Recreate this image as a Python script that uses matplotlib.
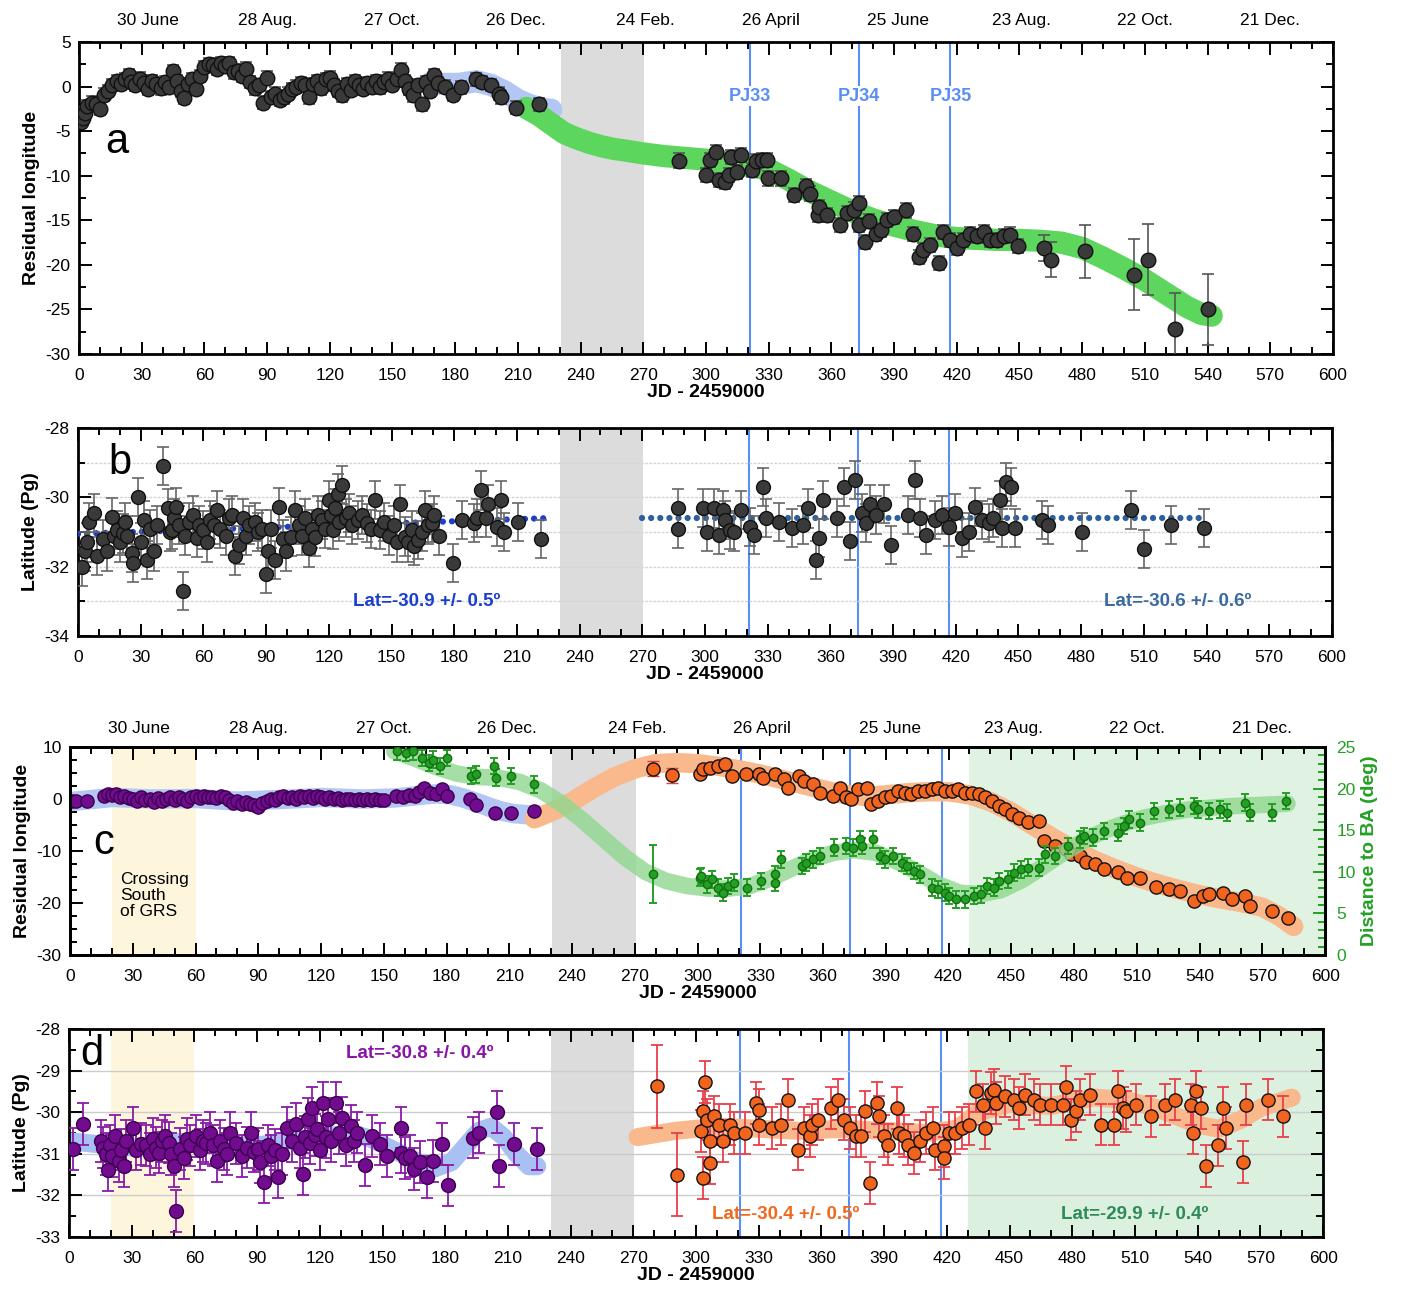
import numpy as np
import matplotlib.pyplot as plt
from matplotlib.ticker import MultipleLocator

plt.rcParams['font.family'] = ['Liberation Sans', 'DejaVu Sans']
plt.rcParams['axes.unicode_minus'] = False

# common
date_pos = [33, 90, 150, 209, 271, 331, 392, 451, 510, 570]
date_labels = ["30 June", "28 Aug.", "27 Oct.", "26 Dec.", "24 Feb.", "26 April",
               "25 June", "23 Aug.", "22 Oct.", "21 Dec."]
pj_days = [321, 373, 417]
pj_labels = ["PJ33", "PJ34", "PJ35"]
gap_span = [230.5, 270.5]
grs_span = [20, 60]
ba_span = [430, 600]

# panel a - residual longitude
a_x1 = [1, 2, 3, 4, 6, 8, 10, 12, 14, 16, 18, 20, 22, 24, 25, 27, 29, 31, 33, 35,
        37, 39, 41, 43, 45, 47, 49, 50, 52, 54, 56, 58, 60, 62, 64, 66, 68, 70, 72, 74,
        76, 78, 80, 82, 84, 86, 88, 90, 92, 94, 96, 98, 100, 102, 104, 106, 108, 110, 112, 114,
        116, 118, 120, 122, 124, 126, 128, 130, 132, 134, 136, 138, 140, 142, 144, 146, 148, 150, 152, 154,
        156, 158, 160, 162, 164, 166, 168, 170, 172, 175, 179, 183, 190, 193, 197, 201, 202, 209, 220]
a_y1 = [-4.0, -3.5, -3.0, -2.2, -1.8, -2.0, -2.5, -0.9, -0.5, 0.2, 0.6, 0.3, 0.8, 1.3, 0.5, 0.2, 0.9, 0.4, -0.3, 0.6,
        0.3, -0.2, 0.5, 0.0, 1.7, 0.6, -0.5, -1.3, 0.3, 0.8, -0.3, 1.2, 2.2, 2.5, 2.4, 2.0, 2.6, 2.3, 2.6, 1.6,
        1.8, 1.2, 2.0, 0.5, -0.2, 0.2, -1.8, 1.0, -1.2, -0.8, -1.5, -1.2, -0.8, -0.3, 0.0, 0.4, 0.2, -1.2, 0.3, 0.6,
        -0.2, 0.8, 1.0, 0.2, -0.5, -1.0, 0.3, -0.4, 0.6, 0.2, -0.3, 0.4, 0.0, 0.6, -0.1, 0.5, 0.9, 0.2, 0.8, 1.9,
        0.6, -0.3, -1.0, 0.2, -2.0, 0.5, -0.5, 1.3, 0.4, 0.0, -0.9, -0.1, 0.8, 0.5, 0.15, -0.8, -1.2, -2.35, -2.0]
a_x2 = [287, 300, 302, 305, 306, 309, 311, 312, 315, 317, 322, 324, 327, 329, 329.5, 336, 342, 348, 350, 353.5,
        354, 358, 364, 367.5, 370.7, 373, 373, 376, 378, 381.4, 383.6, 386.8, 390, 395.8, 399, 401.8, 404, 407, 411.4, 413.6,
        416.8, 420, 423, 426.4, 429.6, 433, 436, 439.3, 442.5, 445.7, 449.3, 461.8, 465, 481.5, 505, 511.5, 524.3, 540]
a_y2 = [-8.3, -9.9, -8.2, -7.3, -10.5, -10.7, -9.9, -7.9, -9.6, -7.7, -9.4, -8.4, -8.2, -8.2, -10.3, -10.3, -12.2, -11.2, -12.0, -14.4,
        -13.5, -14.4, -15.5, -14.2, -13.8, -13.1, -15.5, -17.4, -15.1, -16.5, -16.1, -15.0, -14.6, -13.9, -16.5, -19.1, -18.3, -17.8, -19.8, -16.3,
        -17.2, -18.1, -17.2, -16.5, -16.8, -16.3, -17.2, -17.2, -16.8, -16.6, -17.9, -18.1, -19.4, -18.5, -21.1, -19.4, -27.2, -25.0]
a_e2 = [0.8] * 51 + [1.5, 2.0, 3.0, 4.0, 4.0, 4.0, 4.0]
a_blue_x = [168, 175, 182, 190, 197, 204, 210, 216, 222, 226]
a_blue_y = [0.4, 0.3, 0.3, 0.6, 0.2, -0.6, -1.5, -2.1, -2.5, -2.6]
a_green_x = [214, 220, 226, 232, 238, 244, 250, 256, 262, 270, 280, 290, 300, 310, 320, 330, 340, 350, 360, 370,
             380, 390, 400, 410, 420, 430, 440, 450, 460, 470, 480, 490, 500, 510, 520, 530, 537, 542]
a_green_y = [-2.4, -3.2, -4.2, -5.2, -5.8, -6.3, -6.7, -7.0, -7.2, -7.5, -7.8, -8.0, -8.2, -8.5, -8.9, -9.3, -10.5, -11.8, -12.9, -14.0,
             -14.9, -15.6, -16.2, -16.7, -17.0, -17.1, -17.2, -17.2, -17.3, -17.5, -18.1, -19.2, -20.4, -21.7, -23.2, -24.7, -25.5, -25.7]

# panel b - latitude
b_x1 = [1.7, 3.2, 4.3, 5.4, 7.5, 9.2, 12, 13.9, 16.1, 17, 18.6, 20, 21.4, 22.5, 23.6, 25.7, 26.4, 28.9, 30, 31.5,
        33.2, 34.5, 36.4, 38, 40.7, 42.9, 44, 45, 46, 47.1, 48.5, 50.4, 51.4, 53, 55, 56.8, 58, 60, 61.5, 63.2,
        65, 66.4, 68, 70.7, 72, 73.5, 75, 77.1, 79, 80.4, 82, 84.6, 86, 88, 90, 91, 92.5, 94.3, 96.4, 98,
        99.6, 101.8, 103.9, 105.5, 107, 108.5, 110.4, 112, 113.6, 115, 116.8, 118, 120, 121, 122.1, 123, 124.3, 125, 126.4, 128,
        129.6, 131, 133.9, 136, 138.2, 140, 142, 144.6, 146.5, 148.9, 151, 152.5, 154.3, 156.4, 158, 159.6, 161, 162.9, 164.5, 166.1,
        167.5, 169.3, 170.5, 172.5, 179.6, 183.9, 189.6, 191, 192.9, 195, 196.1, 200.4, 202.5, 203.6, 210.6, 221.4]
b_y1 = [-32.0, -31.56, -31.3, -30.7, -30.46, -31.7, -31.2, -31.56, -30.56, -31.1, -30.94, -31.3, -31.04, -30.7, -31.1, -31.6, -31.9, -30.0, -31.3, -30.66,
        -31.8, -30.9, -31.56, -30.8, -29.1, -30.3, -31.0, -30.94, -30.6, -30.27, -30.8, -32.7, -31.1, -30.7, -30.5, -31.18, -30.8, -30.94, -31.3, -30.66,
        -30.8, -30.37, -30.9, -31.1, -30.6, -30.5, -31.7, -31.37, -30.6, -31.1, -30.8, -30.7, -31.0, -30.9, -32.2, -31.56, -30.9, -31.8, -30.27, -31.2,
        -31.56, -31.13, -30.37, -30.8, -31.1, -30.6, -31.47, -30.9, -31.13, -30.5, -30.66, -30.9, -30.08, -30.5, -30.94, -30.3, -29.89, -30.7, -29.65, -30.6,
        -30.46, -30.8, -30.66, -30.5, -30.75, -30.9, -30.08, -30.94, -30.7, -31.1, -30.8, -31.3, -30.18, -31.13, -31.3, -30.94, -31.4, -31.23, -31.0, -30.37,
        -30.8, -30.75, -30.5, -31.1, -31.9, -30.66, -30.75, -30.6, -29.8, -30.6, -30.18, -30.85, -30.08, -30.99, -30.7, -31.2]
b_x2 = [287, 287, 299, 301, 304.3, 306.5, 308.6, 309.7, 311.8, 314, 317.2, 321.4, 323.6, 327.9, 329, 335.3, 341.8, 347.1, 349.2, 352.9,
        354.6, 356.7, 363.1, 366.3, 369.5, 371.6, 374.9, 377, 379.2, 381.9, 385.6, 388.8, 397.3, 400.5, 402.7, 405.9, 410.2, 413.4, 416.6, 419.8,
        423, 426.2, 429.4, 432.6, 435.8, 438, 441.2, 442.2, 443.9, 446.5, 448.2, 461.5, 464, 480.3, 503.8, 510.2, 523, 538.8]
b_y2 = [-30.3, -30.9, -30.3, -30.99, -30.32, -31.08, -30.37, -30.66, -30.94, -30.99, -30.37, -30.85, -31.08, -29.7, -30.6, -30.7, -30.89, -30.8, -30.32, -31.8,
        -31.18, -30.08, -30.6, -29.7, -31.27, -29.5, -30.46, -30.75, -30.18, -30.5, -30.18, -31.37, -30.5, -29.5, -30.6, -31.08, -30.66, -30.5, -30.85, -30.46,
        -31.18, -30.99, -30.27, -30.66, -30.75, -30.6, -30.08, -30.89, -29.56, -29.7, -30.89, -30.66, -30.8, -30.99, -30.37, -31.5, -30.8, -30.89]
b_fit1_x = [0, 224]
b_fit1_y = [-31.05, -30.6]
b_fit2_x = [270, 540]
b_fit2_y = [-30.6, -30.6]

# panel c - residual longitude (left) and distance to BA (right)
c_px = [1, 3, 8, 16, 18, 20, 22, 24, 26, 28, 30, 32, 34, 36, 38, 40, 42, 44, 46, 48,
        50, 52, 54, 56, 58, 60, 62, 64, 66, 68, 70, 72, 74, 76, 78, 80, 82, 84, 86, 88,
        90, 92, 94, 96, 98, 100, 102, 104, 106, 108, 110, 112, 114, 116, 118, 120, 122, 124, 126, 128,
        130, 132, 134, 136, 138, 140, 142, 144, 146, 148, 150, 156, 159, 162, 165, 167, 169, 172, 175, 178,
        180, 191, 194, 203, 211, 222]
c_py = [-0.3, -0.4, -0.3, 0.6, 0.9, 0.8, 1.0, 0.4, 0.6, 0.2, 0.0, -0.3, 0.3, -0.2, 0.1, -0.5, 0.2, -0.3, 0.0, 0.4,
        -0.2, 0.3, 0.1, -0.4, 0.3, 0.5, 0.2, 0.6, 0.3, 0.4, 0.2, 0.5, 0.3, -0.2, -0.8, -0.4, -1.0, -0.6, -0.9, -1.2,
        -1.5, -0.8, -0.3, 0.1, -0.2, 0.3, 0.5, 0.2, 0.4, 0.1, 0.6, 0.3, 0.5, 0.2, 0.6, 0.4, 0.1, 0.3, 0.0, 0.2,
        -0.2, 0.1, 0.0, -0.2, 0.0, -0.1, 0.1, -0.2, 0.0, -0.1, -0.1, 0.5, 0.3, 0.7, 0.6, 1.4, 2.2, 1.2, 1.0, 1.9,
        0.6, -0.05, -1.2, -2.6, -2.6, -2.3]
c_ox = [278.6, 287.6, 301, 302.6, 305.8, 310, 313.3, 316.5, 323, 329.4, 331.5, 336.9, 341.1, 343.3, 348.6, 350.8, 355, 358.3, 364.7, 367.9,
        371.1, 373.3, 376.5, 380.8, 382.9, 386.1, 389.4, 392.6, 395.8, 399, 402.2, 405.4, 408.6, 411.9, 415.1, 418.3, 421.5, 424.7, 427.9, 431.1,
        434.4, 437.6, 440.8, 444, 447.2, 450.4, 453.6, 457.9, 463.3, 465.4, 470.8, 476.1, 478.3, 482.6, 485.8, 490.1, 494.3, 500.8, 505.1, 511.5,
        519, 525.4, 530.8, 537.2, 541.5, 544.7, 551.1, 555.4, 561.8, 564, 574.7, 582.2]
c_oy = [5.84, 4.56, 4.9, 5.7, 6.0, 6.35, 6.7, 4.4, 4.75, 4.75, 4.1, 4.75, 3.8, 2.2, 4.4, 3.5, 2.8, 1.2, 0.6, 2.2,
        0.3, 0.0, 1.9, 2.2, -1.0, -0.37, 0.3, 0.6, 1.55, 1.2, 0.9, 1.55, 1.55, 1.9, 2.2, 1.55, 1.55, 1.9, 1.2, 1.2,
        0.9, 0.3, -0.37, -1.3, -2.0, -2.9, -3.6, -4.5, -4.2, -8.0, -9.0, -9.6, -10.6, -10.9, -12.2, -12.5, -13.5, -14.1, -15.1, -15.1,
        -17.0, -17.3, -17.6, -19.6, -18.6, -18.3, -18.0, -19.2, -18.6, -20.5, -21.5, -22.8]
c_gx = [156.4, 160.7, 164, 168.2, 171.4, 173.6, 176.8, 180, 191.8, 193.9, 202.5, 203.6, 211, 221.8, 278.6, 301, 301.5, 304.7, 306.9, 310,
        312.2, 314.4, 317.6, 323.6, 330.4, 336.9, 336.9, 340, 349.7, 351.8, 355, 358.3, 365.4, 371.1, 374.4, 377.6, 378.6, 384, 387.2, 389.4,
        393.6, 397.9, 400.1, 403.3, 406.5, 411.9, 415.1, 418.3, 420.4, 423.6, 427.9, 432.2, 435.4, 438.6, 441.9, 444, 448.3, 451.5, 454.7, 457.9,
        463.3, 466, 470.8, 477.2, 482.6, 484.7, 489, 494.3, 500.8, 504, 506.1, 511.5, 518.1, 525.4, 530.8, 537.2, 539.3, 544.7, 550, 553.3,
        561.8, 564, 574.7, 581.1]
c_gy = [24.5, 24.3, 24.5, 23.7, 23.1, 23.5, 22.7, 23.7, 21.5, 21.7, 22.7, 21.3, 21.5, 20.5, 9.7, 9.3, 9.5, 8.5, 9.1, 8.1,
        7.5, 8.3, 8.7, 8.1, 8.9, 8.7, 9.7, 11.5, 10.7, 11.1, 11.5, 11.9, 12.9, 13.1, 12.9, 13.9, 13.1, 13.9, 11.9, 11.5,
        11.9, 11.1, 10.7, 10.1, 9.7, 8.1, 7.9, 7.5, 7.1, 6.7, 6.7, 7.1, 7.3, 8.3, 8.1, 8.9, 9.1, 9.9, 10.3, 10.5,
        10.5, 12.1, 11.9, 13.1, 13.9, 14.3, 14.1, 14.9, 14.7, 15.5, 16.3, 15.9, 17.3, 17.5, 17.7, 17.9, 17.5, 17.3, 17.5, 17.1,
        18.3, 17.1, 17.1, 18.5]
c_ge = [1.0] * 14 + [3.5] + [1.0] * 69
c_blue_x = [0, 20, 40, 60, 80, 100, 120, 140, 155, 165, 175, 182, 188, 194, 200, 206, 212, 218, 224]
c_blue_y = [-0.5, 0.3, 0.0, 0.1, -0.4, -0.1, 0.3, 0.0, 0.2, 0.6, 1.0, 0.8, 0.2, -0.6, -1.5, -2.3, -2.8, -3.0, -3.1]
c_orange_x = [222, 230, 240, 250, 260, 270, 280, 290, 300, 310, 320, 330, 340, 350, 360, 370, 380, 390, 400, 410,
              420, 430, 440, 450, 460, 470, 480, 490, 500, 510, 520, 530, 540, 550, 560, 570, 578, 585]
c_orange_y = [-3.8, -2.5, -0.5, 2.0, 4.2, 5.8, 6.8, 7.0, 6.8, 6.3, 5.6, 4.8, 3.8, 2.8, 1.8, 0.9, 0.5, 0.8, 1.2, 1.4,
              1.4, 0.8, -0.5, -2.5, -5.0, -7.5, -9.8, -11.8, -13.5, -15.0, -16.3, -17.4, -18.4, -19.2, -19.9, -20.8, -22.5, -24.5]
c_green_x = [155, 165, 175, 185, 195, 205, 215, 225, 235, 245, 255, 265, 275, 285, 295, 305, 315, 325, 335, 345,
             355, 365, 375, 385, 395, 405, 415, 425, 435, 445, 455, 465, 475, 485, 495, 505, 515, 525, 535, 545,
             555, 565, 575, 582]
c_green_y = [24.5, 23.6, 22.6, 21.8, 21.4, 21.3, 20.8, 19.8, 18.2, 16.2, 14.0, 11.8, 10.0, 8.9, 8.3, 8.0, 8.0, 8.3, 9.2, 10.4,
             11.5, 12.3, 12.6, 12.3, 11.3, 10.0, 8.5, 7.5, 7.3, 7.8, 9.0, 10.6, 12.3, 13.8, 15.0, 15.9, 16.6, 17.1, 17.5, 17.7,
             17.9, 18.0, 18.1, 18.2]

# panel d - latitude
d_px = [1.7, 6.5, 15.2, 16.3, 17.5, 18.5, 19.5, 20.7, 22.2, 23.9, 25, 26.1, 27.2, 30.4, 32, 34.3, 37, 38.5, 40.2, 41.5,
        43, 44.5, 45.7, 47.8, 49, 50.4, 51.1, 53.3, 55, 56.5, 58, 60.9, 62.5, 64.1, 65.5, 67.4, 69, 70.7, 72, 73.9,
        75.5, 77.2, 80, 82.6, 85, 87, 88.5, 90.2, 91.5, 93.5, 95, 96.7, 98.5, 100, 102, 104.3, 106.5, 108.7, 110.5, 111.9,
        113, 114.1, 115.2, 116.3, 117.5, 118.5, 120, 121.7, 123, 123.9, 125.5, 127.8, 129, 130.4, 132.5, 134.8, 136.5, 138, 141.7, 145,
        148.9, 152.2, 158.7, 158.7, 160.5, 163, 165.2, 168, 171.3, 174.3, 178.3, 181.5, 193.5, 196.1, 204.8, 205.9, 213, 223.9]
d_py = [-30.89, -30.29, -30.69, -30.85, -31.0, -31.4, -30.8, -31.05, -30.57, -31.17, -30.9, -31.29, -30.69, -30.37, -30.9, -30.77, -30.8, -31.0, -30.65, -30.85,
        -30.97, -30.7, -30.57, -30.73, -31.0, -31.29, -32.38, -30.89, -31.1, -30.65, -30.8, -30.57, -30.9, -30.69, -30.75, -30.49, -30.8, -31.17, -30.7, -30.89,
        -31.0, -30.49, -30.75, -31.05, -30.85, -30.49, -30.95, -30.89, -31.2, -31.68, -30.8, -31.05, -30.9, -31.56, -31.0, -30.37, -30.7, -30.29, -30.85, -31.48,
        -30.6, -30.17, -30.75, -29.89, -30.55, -30.41, -30.9, -29.77, -30.6, -30.17, -30.7, -29.77, -30.5, -30.13, -30.8, -30.33, -30.7, -30.49, -31.27, -30.57,
        -30.77, -31.05, -30.37, -30.97, -31.1, -31.05, -31.37, -31.2, -31.56, -31.17, -30.77, -31.76, -30.61, -30.49, -29.99, -31.29, -30.77, -30.89]
d_ox = [281.5, 290.7, 302.2, 303.3, 303.3, 304.3, 305.4, 306.5, 306.5, 308.6, 311.2, 312.9, 316.1, 318.2, 323.6, 328.9, 330, 330, 336.4, 340.7,
        343.9, 348.8, 351.4, 354.6, 355.6, 358.2, 364.6, 368, 371, 373.8, 376.5, 379.1, 380.8, 383, 386.6, 387.3, 389.9, 392, 396.3, 397.3,
        399.5, 401.6, 404.4, 407, 410.2, 413.4, 414.4, 418.7, 418.7, 420.9, 424.1, 427.3, 430.5, 433.7, 437.3, 438, 441.2, 442.3, 443.4, 447.6,
        451.9, 454.4, 457.2, 461.5, 464.7, 470, 475.4, 476.9, 479.6, 481.8, 483.9, 488.6, 493.5, 499.9, 502.1, 504.2, 505.7, 510.6, 517.7, 524.5,
        529.2, 536.9, 537.8, 539.1, 541.6, 543.8, 549.7, 551.9, 553.4, 561.5, 563, 573.7, 580.7]
d_oy = [-29.38, -31.5, -30.46, -29.98, -31.58, -29.28, -30.18, -30.7, -31.22, -30.1, -30.3, -30.7, -30.3, -30.5, -30.5, -29.78, -29.94, -30.3, -30.38, -30.3,
        -29.7, -30.9, -30.38, -30.58, -30.3, -30.18, -29.9, -29.7, -30.18, -30.38, -30.58, -30.58, -29.98, -31.7, -29.78, -30.1, -30.58, -30.78, -29.9, -30.5,
        -30.58, -30.78, -30.98, -30.7, -30.5, -30.38, -30.9, -30.82, -31.1, -30.5, -30.5, -30.38, -30.3, -29.5, -29.82, -30.38, -29.54, -29.46, -29.78, -29.62,
        -29.7, -29.9, -29.58, -29.7, -29.82, -29.82, -29.82, -29.39, -30.18, -29.98, -29.7, -29.58, -30.3, -30.3, -29.5, -29.9, -29.98, -29.82, -30.1, -29.82,
        -29.7, -29.82, -30.5, -29.5, -29.9, -31.3, -30.8, -29.9, -30.38, -31.2, -29.82, -29.7, -30.1]
d_oe = [1.0, 1.0] + [0.5] * 91
d_blue_x = [0, 10, 20, 30, 45, 60, 75, 90, 105, 120, 135, 145, 155, 165, 175, 183, 190, 196, 202, 208, 214, 220, 224]
d_blue_y = [-30.7, -30.75, -30.8, -30.85, -30.75, -30.7, -30.8, -30.8, -30.7, -30.6, -30.5, -30.65, -30.9, -31.15, -31.35,
            -31.2, -30.8, -30.45, -30.35, -30.6, -31.0, -31.3, -31.3]
d_orange_x = [272, 290, 310, 330, 350, 370, 390, 410, 425, 435, 450, 470, 490, 505, 520, 540, 550, 560, 570, 585]
d_orange_y = [-30.6, -30.45, -30.35, -30.4, -30.45, -30.4, -30.45, -30.5, -30.4, -30.0, -29.8, -29.85, -29.65, -29.7,
              -29.9, -30.3, -30.4, -30.2, -29.9, -29.65]

# colours
DOT = '#3a3a3a'
PURPLE = '#720c8e'
ORANGE = '#f0641e'
GREEN = '#23a023'
PJBLUE = '#5a8ef5'

fig = plt.figure(figsize=(14.01, 12.92), dpi=100)
axa = fig.add_axes([0.0564, 0.726, 0.895, 0.2415])
axb = fig.add_axes([0.0557, 0.5077, 0.895, 0.161])
axc = fig.add_axes([0.050, 0.2608, 0.8958, 0.161])
axd = fig.add_axes([0.0493, 0.0426, 0.8951, 0.161])


def frame(ax, ymin, ymax, ymaj, ymin_step, right=True):
    ax.set_xlim(0, 600)
    ax.set_ylim(ymin, ymax)
    ax.xaxis.set_major_locator(MultipleLocator(30))
    ax.xaxis.set_minor_locator(MultipleLocator(10))
    ax.yaxis.set_major_locator(MultipleLocator(ymaj))
    ax.yaxis.set_minor_locator(MultipleLocator(ymin_step))
    ax.tick_params(which='both', direction='in', top=True, right=right, width=1.4, labelsize=12.5)
    ax.tick_params(which='major', length=9)
    ax.tick_params(which='minor', length=5)
    ax.tick_params(axis='x', which='major', pad=10)
    ax.tick_params(axis='y', which='major', pad=6)
    for s in ax.spines.values():
        s.set_linewidth(2)
    ax.set_xlabel("JD - 2459000", fontsize=14, fontweight='bold', labelpad=1)
    ax.axvspan(gap_span[0], gap_span[1], color='#dcdcdc', zorder=0, lw=0)


def dates(ax, ypos):
    for d, lab in zip(date_pos, date_labels):
        ax.text(d, ypos, lab, transform=ax.get_xaxis_transform(), ha='center', va='center', fontsize=12.5)


# ---- a
frame(axa, -30, 5, 5, 2.5)
dates(axa, 1.07)
axa.set_ylabel("Residual longitude", fontsize=14, fontweight='bold')
for d, lab in zip(pj_days, pj_labels):
    axa.axvline(d, color=PJBLUE, lw=1.5, zorder=1)
    axa.text(d, -1.1, lab, color=PJBLUE, fontsize=13, fontweight='bold', ha='center', va='center',
             bbox=dict(facecolor='white', edgecolor='none', pad=1))
axa.plot(a_blue_x, a_blue_y, color='#b4c6f4', lw=16, solid_capstyle='round', zorder=2)
axa.plot(a_green_x, a_green_y, color='#5cd65c', lw=16, solid_capstyle='round', zorder=2)
axa.errorbar(a_x1, a_y1, yerr=0.7, fmt='o', ms=10.5, mfc=DOT, mec='#111111', ecolor='#555555',
             elinewidth=1.2, capsize=4, capthick=1.2, zorder=4)
axa.errorbar(a_x2, a_y2, yerr=a_e2, fmt='o', ms=10.5, mfc=DOT, mec='#111111', ecolor='#555555',
             elinewidth=1.2, capsize=4, capthick=1.2, zorder=4)
axa.text(18, -6.2, "a", fontsize=30, ha='center', va='center')

# ---- b
frame(axb, -34, -28, 2, 1)
axb.set_ylabel("Latitude (Pg)", fontsize=14, fontweight='bold')
axb.grid(axis='y', which='both', color='#d4d4d4', lw=1, ls=(0, (2, 1)), zorder=0)
for d in pj_days:
    axb.axvline(d, color=PJBLUE, lw=1.5, zorder=1)
axb.plot(b_fit1_x, b_fit1_y, color='#1a3fd0', lw=4.5, ls=(0, (0.01, 1.45)), dash_capstyle='round', zorder=3)
axb.plot(b_fit2_x, b_fit2_y, color='#2b5f9e', lw=4.5, ls=(0, (0.01, 1.45)), dash_capstyle='round', zorder=3)
axb.errorbar(b_x1, b_y1, yerr=0.55, fmt='o', ms=10, mfc=DOT, mec='#111111', ecolor='#666666',
             elinewidth=1.2, capsize=4, capthick=1.2, zorder=4)
axb.errorbar(b_x2, b_y2, yerr=0.55, fmt='o', ms=10, mfc=DOT, mec='#111111', ecolor='#666666',
             elinewidth=1.2, capsize=4, capthick=1.2, zorder=4)
axb.text(20, -29.0, "b", fontsize=30, ha='center', va='center')
axb.text(167, -33.0, "Lat=-30.9 +/- 0.5º", color='#1a3fd0', fontsize=13.5, fontweight='bold', ha='center', va='center')
axb.text(526, -33.0, "Lat=-30.6 +/- 0.6º", color='#3a6aa0', fontsize=13.5, fontweight='bold', ha='center', va='center')

# ---- c
frame(axc, -30, 10, 10, 2.5, right=False)
dates(axc, 1.09)
axc.set_ylabel("Residual longitude", fontsize=14, fontweight='bold')
axc.axvspan(grs_span[0], grs_span[1], color='#fdf5dc', zorder=0, lw=0)
axc.axvspan(ba_span[0], ba_span[1], color='#e0f2e2', zorder=0, lw=0)
for d in pj_days:
    axc.axvline(d, color=PJBLUE, lw=1.5, zorder=1)
axc.plot(c_blue_x, c_blue_y, color='#b4c6f4', lw=14, solid_capstyle='round', zorder=2)
axc.plot(c_orange_x, c_orange_y, color='#f9b98c', lw=14, solid_capstyle='round', zorder=2)
axc.errorbar(c_ox[:2], c_oy[:2], yerr=1.5, fmt='none', ecolor='#e04040', elinewidth=1.2, capsize=4, zorder=3)
axc.plot(c_px, c_py, 'o', ms=9.5, mfc=PURPLE, mec='#3c0050', zorder=4)
axc.plot(c_ox, c_oy, 'o', ms=9.5, mfc=ORANGE, mec='#111111', zorder=4)
axc.text(16, -8.5, "c", fontsize=30, ha='center', va='center')
axc.text(24, -18.5, "Crossing\nSouth\nof GRS", fontsize=12.5, ha='left', va='center', linespacing=1.1)

axc2 = axc.twinx()
axc2.set_ylim(0, 25)
axc2.yaxis.set_major_locator(MultipleLocator(5))
axc2.yaxis.set_minor_locator(MultipleLocator(1))
axc2.tick_params(which='both', direction='in', width=1.4, labelsize=12.5, colors=GREEN, pad=8)
axc2.tick_params(which='major', length=9)
axc2.tick_params(which='minor', length=5)
axc2.set_ylabel("Distance to BA (deg)", fontsize=14, fontweight='bold', color=GREEN)
axc2.plot(c_green_x, c_green_y, color='#8fd88f', lw=12, solid_capstyle='round', alpha=0.8, zorder=2)
axc2.errorbar(c_gx, c_gy, yerr=c_ge, fmt='o', ms=6, mfc=GREEN, mec='#127012', ecolor=GREEN,
              elinewidth=1.4, capsize=3, capthick=1.4, zorder=4)
for s in axc2.spines.values():
    s.set_linewidth(2)

# ---- d
frame(axd, -33, -28, 1, 0.5)
axd.set_ylabel("Latitude (Pg)", fontsize=14, fontweight='bold')
axd.axvspan(grs_span[0], grs_span[1], color='#fdf5dc', zorder=0, lw=0)
axd.axvspan(ba_span[0], ba_span[1], color='#dcf0e0', zorder=0, lw=0)
axd.grid(axis='y', which='major', color='#cccccc', lw=1, zorder=0)
for d in pj_days:
    axd.axvline(d, color=PJBLUE, lw=1.5, zorder=1)
axd.plot(d_blue_x, d_blue_y, color='#a9c1f2', lw=13, solid_capstyle='round', zorder=2)
axd.plot(d_orange_x, d_orange_y, color='#f9b98c', lw=13, solid_capstyle='round', zorder=2)
axd.errorbar(d_px, d_py, yerr=0.5, fmt='o', ms=10, mfc=PURPLE, mec='#3c0050', ecolor='#8a1aa8',
             elinewidth=1.3, capsize=4, capthick=1.3, zorder=4)
axd.errorbar(d_ox, d_oy, yerr=d_oe, fmt='o', ms=9.5, mfc=ORANGE, mec='#111111', ecolor='#e8404a',
             elinewidth=1.3, capsize=4, capthick=1.3, zorder=4)
axd.text(11, -28.6, "d", fontsize=30, ha='center', va='center')
axd.text(168, -28.6, "Lat=-30.8 +/- 0.4º", color='#8a14a8', fontsize=13.5, fontweight='bold', ha='center', va='center')
axd.text(343, -32.45, "Lat=-30.4 +/- 0.5º", color='#f06a1e', fontsize=13.5, fontweight='bold', ha='center', va='center')
axd.text(510, -32.45, "Lat=-29.9 +/- 0.4º", color='#2e8b57', fontsize=13.5, fontweight='bold', ha='center', va='center')

fig.savefig("out.png", dpi=100)
